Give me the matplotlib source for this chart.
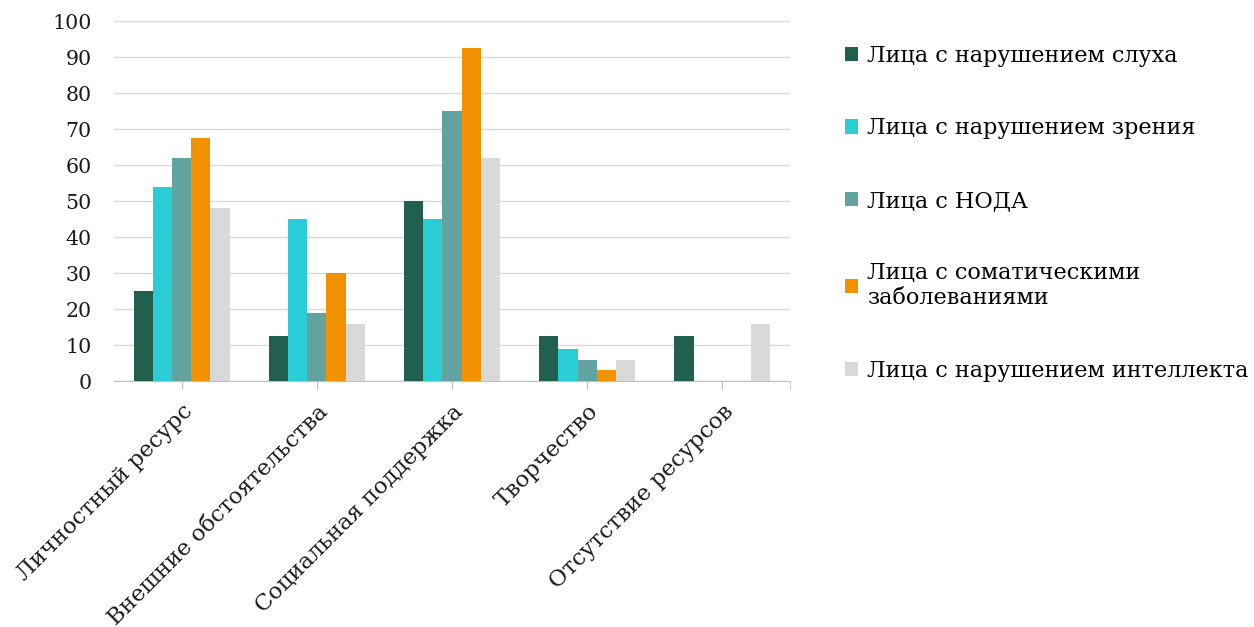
import numpy as np
import matplotlib
matplotlib.use("Agg")
import matplotlib.pyplot as plt

categories = ["Личностный ресурс", "Внешние обстоятельства", "Социальная поддержка",
              "Творчество", "Отсутствие ресурсов"]
series_names = ["Лица с нарушением слуха", "Лица с нарушением зрения", "Лица с НОДА",
                "Лица с соматическими\nзаболеваниями", "Лица с нарушением интеллекта"]
hearing = [25, 12.5, 50, 12.5, 12.5]
vision = [54, 45, 45, 9, 0]
noda = [62, 19, 75, 6, 0]
somatic = [67.5, 30, 92.5, 3, 0]
intellect = [48, 16, 62, 6, 16]
colors = ["#215F4E", "#2ACDD6", "#62A39F", "#F29200", "#D9D9D9"]

plt.rcParams['font.family'] = ['DejaVu Serif']

fig = plt.figure(figsize=(12.54, 6.27), dpi=100)
ax = fig.add_axes([0.0909, 0.392, 0.539, 0.5745])

x = np.arange(len(categories))
w = 0.142
all_series = [hearing, vision, noda, somatic, intellect]
for i, vals in enumerate(all_series):
    ax.bar(x + (i - 2) * w, vals, width=w, color=colors[i], label=series_names[i], zorder=3)

ax.set_xlim(-0.5, 4.5)
ax.set_ylim(0, 100)
ax.set_yticks(np.arange(0, 101, 10))
ax.grid(axis='y', color='#D9D9D9', linewidth=1, zorder=0)
for s in ['top', 'right', 'left']:
    ax.spines[s].set_visible(False)
ax.spines['bottom'].set_color('#BFBFBF')
ax.tick_params(axis='y', length=0, pad=16, labelsize=14.8, labelcolor='#1a1a1a')
ax.set_xticks(x)
ax.set_xticks([4.5], minor=True)
ax.tick_params(axis='x', which='both', length=6, color='#BFBFBF', pad=8,
               labelsize=16.3, labelcolor='#1a1a1a')
ax.set_xticklabels(categories, rotation=45, ha='right', rotation_mode='anchor')

leg = ax.legend(loc='upper left', bbox_to_anchor=(1.068, 0.958), frameon=False,
                fontsize=16.1, handlelength=0.6, handleheight=0.6, handletextpad=0.4,
                labelspacing=2.25, borderaxespad=0)

fig.savefig("out.png", dpi=100)
